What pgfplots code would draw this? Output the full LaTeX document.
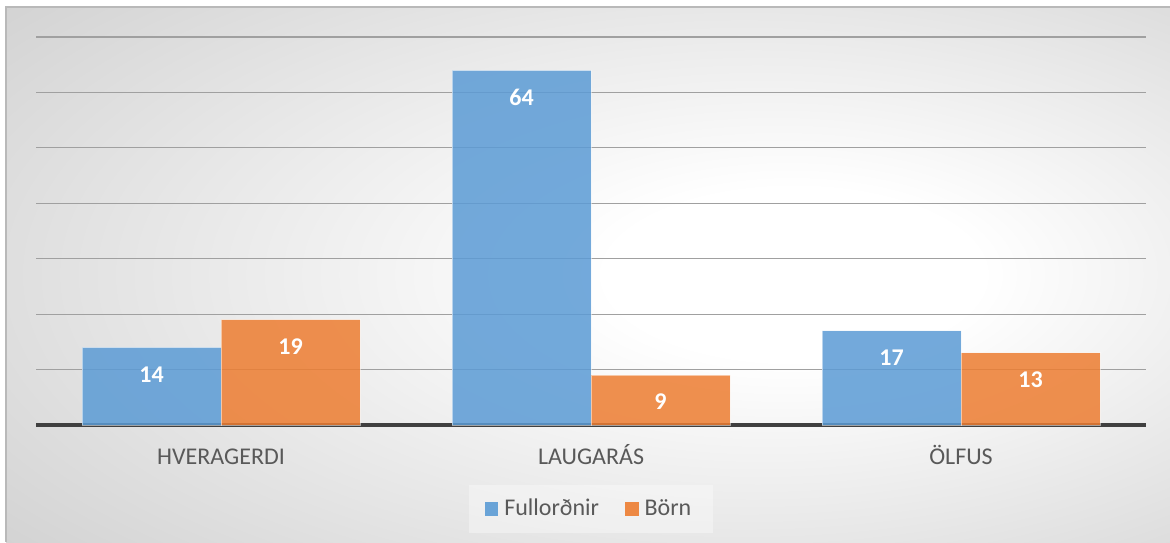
\documentclass[border=0pt]{standalone}
\usepackage{fontspec}
\setmainfont{Carlito}
\usepackage{pgfplots}
\pgfplotsset{compat=1.18}
\definecolor{barblue}{HTML}{5B9BD5}
\definecolor{barorange}{HTML}{ED7D31}
\definecolor{labelgray}{RGB}{89,89,89}
\definecolor{gridgray}{RGB}{160,160,160}
\definecolor{axisdark}{RGB}{64,64,64}
% soft radial backdrop, lightest right of centre
\pgfdeclareradialshading{chartbg}{\pgfpoint{10bp}{0bp}}{rgb(0bp)=(1,1,1);rgb(8bp)=(1,1,1);rgb(42bp)=(0.81,0.81,0.81);rgb(72bp)=(0.70,0.70,0.70)}

\begin{document}
\begin{tikzpicture}
\path[use as bounding box] (0,0) rectangle (585pt,271pt);
\shade[shading=chartbg] (3pt,0) rectangle (585pt,267.5pt);
\draw[gray!55, line width=0.6pt] (3pt,0) -- (3pt,267.5pt) -- (585pt,267.5pt);
\begin{axis}[
    at={(18pt,58.5pt)}, anchor=south west,
    scale only axis, width=555pt, height=194pt,
    ybar=0pt, bar width=69.5pt,
    xmin=-0.5, xmax=2.5, ymin=0, ymax=70,
    xtick={0,1,2}, xticklabels={HVERAGERDI,LAUGARÁS,ÖLFUS},
    ytick={10,20,...,70}, yticklabels={},
    major tick length=0pt,
    ymajorgrids, grid style={gridgray, line width=0.6pt},
    axis x line*=bottom, axis y line*=left,
    y axis line style={draw=none},
    x axis line style={axisdark, line width=1.6pt, -},
    /pgf/number format/assume math mode=true,
    tick label style={labelgray, font=\fontsize{12}{14}\selectfont},
    xticklabel style={text height=7.6pt, text depth=0pt, yshift=-8.5pt},
    nodes near coords,
    every node near coord/.append style={white, text opacity=1, anchor=center, yshift=-13.5pt,
        font=\bfseries\fontsize{12}{14}\selectfont},
    legend style={at={(0.5,-0.2165)}, anchor=center, legend columns=2,
        fill=white, fill opacity=0.35, text opacity=1, draw=none,
        text=labelgray, font=\fontsize{12}{14}\selectfont,
        inner xsep=8pt, inner ysep=5pt,
        /tikz/every even column/.append style={column sep=10pt}},
    legend image code/.code={\fill[#1, fill opacity=0.9, draw=none] (0pt,-3.4pt) rectangle (6.8pt,3.4pt);},
    legend style={nodes={inner xsep=3pt}},
]
\addplot[fill=barblue, fill opacity=0.85, draw=white, draw opacity=0.5, line width=0.5pt]
    coordinates {(0,14) (1,64) (2,17)};
\addplot[fill=barorange, fill opacity=0.85, draw=white, draw opacity=0.5, line width=0.5pt]
    coordinates {(0,19) (1,9) (2,13)};
\legend{Fullorðnir, Börn}
\end{axis}
\end{tikzpicture}
\end{document}
